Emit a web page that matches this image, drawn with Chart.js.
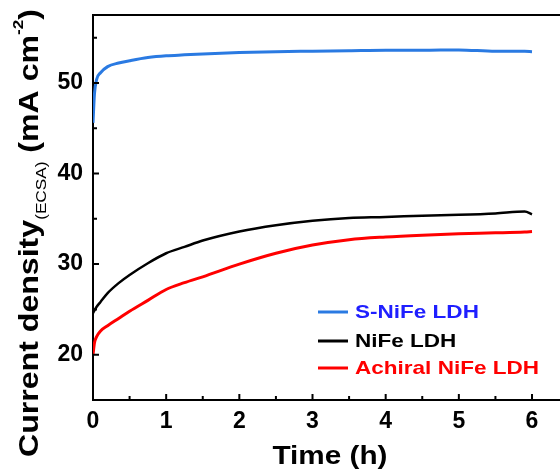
<!DOCTYPE html>
<html>
<head>
<meta charset="utf-8">
<script src="https://cdn.jsdelivr.net/npm/chart.js@4"></script>
<style>
  html, body { margin: 0; padding: 0; background: #fff; overflow: hidden; width: 560px; height: 472px; }
  #wrap { position: relative; width: 600px; height: 472px; }
</style>
</head>
<body>
<div id="wrap"><canvas id="chart"></canvas></div>
<script>
// time (h), shared by all three curves
const TIMES = [0, 0.02, 0.05, 0.1, 0.2, 0.35, 0.5, 0.75, 1, 1.25, 1.5, 2, 2.5, 3, 3.5, 4, 4.5, 5, 5.5, 5.9, 6];
const S_NIFE = [45.6, 48.8, 50.4, 51.1, 51.8, 52.2, 52.45, 52.8, 53.0, 53.1, 53.2, 53.35, 53.45, 53.5, 53.55, 53.6, 53.6, 53.65, 53.5, 53.5, 53.45];
const NIFE = [24.6, 24.9, 25.3, 25.8, 26.8, 27.9, 28.8, 30.1, 31.2, 31.9, 32.6, 33.6, 34.3, 34.8, 35.1, 35.2, 35.35, 35.45, 35.6, 35.8, 35.5];
const ACHIRAL = [20.0, 21.3, 22.0, 22.6, 23.2, 24.0, 24.8, 26.0, 27.2, 27.95, 28.6, 30.0, 31.2, 32.1, 32.7, 33.0, 33.2, 33.35, 33.45, 33.55, 33.6];
const LABELS = ['S-NiFe LDH', 'NiFe LDH', 'Achiral NiFe LDH'];
const LINE_COLORS = ['#2a7ae2', '#000000', '#ff0000'];
const TEXT_COLORS = ['#1f1fff', '#000000', '#ff0000'];
const X_TICKS = [0, 1, 2, 3, 4, 5, 6];
const Y_TICKS = [20, 30, 40, 50];

const FONT = "'Liberation Sans', Arial, sans-serif";

function pts(vals) { return TIMES.map((t, i) => ({ x: t, y: vals[i] })); }

// draw text pieces along a line, stretched by sx in the reading direction
function stretchedText(ctx, x, y, sx, text) {
  ctx.save();
  ctx.translate(x, y);
  ctx.scale(sx, 1);
  ctx.fillText(text, 0, 0);
  ctx.restore();
  return ctx.measureText(text).width * sx;
}

const decor = {
  id: 'decor',
  afterDraw(chart) {
    const { ctx, chartArea: a, scales: { x, y } } = chart;
    ctx.save();
    ctx.strokeStyle = '#000';
    ctx.lineWidth = 2;
    ctx.beginPath();
    ctx.moveTo(a.left - 1, a.top); ctx.lineTo(a.right + 40, a.top);
    for (let v = 0.5; v <= 6.5; v += 0.5) {
      const px = x.getPixelForValue(v);
      const len = v % 1 === 0 ? 6 : 4;
      ctx.moveTo(px, a.bottom); ctx.lineTo(px, a.bottom - len);
    }
    for (let v = 20; v <= 55; v += 5) {
      const py = y.getPixelForValue(v);
      const len = v % 10 === 0 ? 6 : 4;
      ctx.moveTo(a.left, py); ctx.lineTo(a.left + len, py);
    }
    ctx.stroke();
    ctx.restore();

    // y title: Current density(ECSA) (mA cm-2)
    ctx.save();
    ctx.fillStyle = '#000';
    ctx.textBaseline = 'alphabetic';
    ctx.textAlign = 'left';
    const parts = [
      { t: 'Current density', f: `bold 28px ${FONT}`, dy: 0 },
      { t: '(ECSA)', f: `15px ${FONT}`, dy: 8 },
      { t: ' (mA cm', f: `bold 28px ${FONT}`, dy: 0 },
      { t: '-2', f: `bold 15px ${FONT}`, dy: -15 },
      { t: ')', f: `bold 28px ${FONT}`, dy: 0 }
    ];
    let total = 0;
    parts.forEach(p => { ctx.font = p.f; total += ctx.measureText(p.t).width; });
    const sx = (457 - 9) / total;
    ctx.translate(38, 457);
    ctx.rotate(-Math.PI / 2);
    let cx = 0;
    parts.forEach(p => { ctx.font = p.f; cx += stretchedText(ctx, cx, p.dy, sx, p.t); });
    ctx.restore();

    // x title
    ctx.save();
    ctx.fillStyle = '#000';
    ctx.font = `bold 26px ${FONT}`;
    ctx.textBaseline = 'alphabetic';
    const tw = ctx.measureText('Time (h)').width;
    const tsx = 115 / tw;
    stretchedText(ctx, 330 - 57.5, 464, tsx, 'Time (h)');
    ctx.restore();

    // legend
    ctx.save();
    const rows = [312, 341, 368];
    ctx.font = `bold 19px ${FONT}`;
    ctx.textBaseline = 'middle';
    const lsx = 184 / ctx.measureText(LABELS[2]).width;
    LABELS.forEach((lab, i) => {
      ctx.strokeStyle = LINE_COLORS[i];
      ctx.lineWidth = 3;
      ctx.beginPath();
      ctx.moveTo(318, rows[i]); ctx.lineTo(348, rows[i]);
      ctx.stroke();
      ctx.fillStyle = TEXT_COLORS[i];
      stretchedText(ctx, 355, rows[i] + 1, lsx, lab);
    });
    ctx.restore();
  }
};

new Chart(document.getElementById('chart'), {
  type: 'line',
  data: {
    datasets: [
      { label: LABELS[0], data: pts(S_NIFE), borderColor: LINE_COLORS[0], borderWidth: 3 },
      { label: LABELS[1], data: pts(NIFE), borderColor: LINE_COLORS[1], borderWidth: 2.5 },
      { label: LABELS[2], data: pts(ACHIRAL), borderColor: LINE_COLORS[2], borderWidth: 3 }
    ]
  },
  options: {
    responsive: true,
    maintainAspectRatio: false,
    animation: false,
    layout: { padding: { top: 15, right: 31.4, left: 0, bottom: 0 } },
    elements: { point: { radius: 0 }, line: { cubicInterpolationMode: 'monotone' } },
    plugins: { legend: { display: false }, tooltip: { enabled: false } },
    scales: {
      x: {
        type: 'linear',
        min: 0, max: 6.5,
        afterFit(s) { s.height = 72; s.paddingLeft = 0; s.paddingRight = 0; },
        border: { color: '#000', width: 2 },
        grid: { display: false, drawTicks: false },
        ticks: {
          stepSize: 1, includeBounds: false, padding: 8, color: '#000',
          font: { family: FONT, size: 23, weight: 'bold' },
          callback: v => X_TICKS.includes(v) ? v : ''
        }
      },
      y: {
        min: 15, max: 57.5,
        afterFit(s) { s.width = 93; s.paddingTop = 0; s.paddingBottom = 0; },
        border: { color: '#000', width: 2 },
        grid: { display: false, drawTicks: false },
        ticks: {
          stepSize: 10, includeBounds: false, padding: 10, color: '#000',
          font: { family: FONT, size: 23, weight: 'bold' },
          callback: v => Y_TICKS.includes(v) ? v : ''
        }
      }
    }
  },
  plugins: [decor]
});
</script>
</body>
</html>
